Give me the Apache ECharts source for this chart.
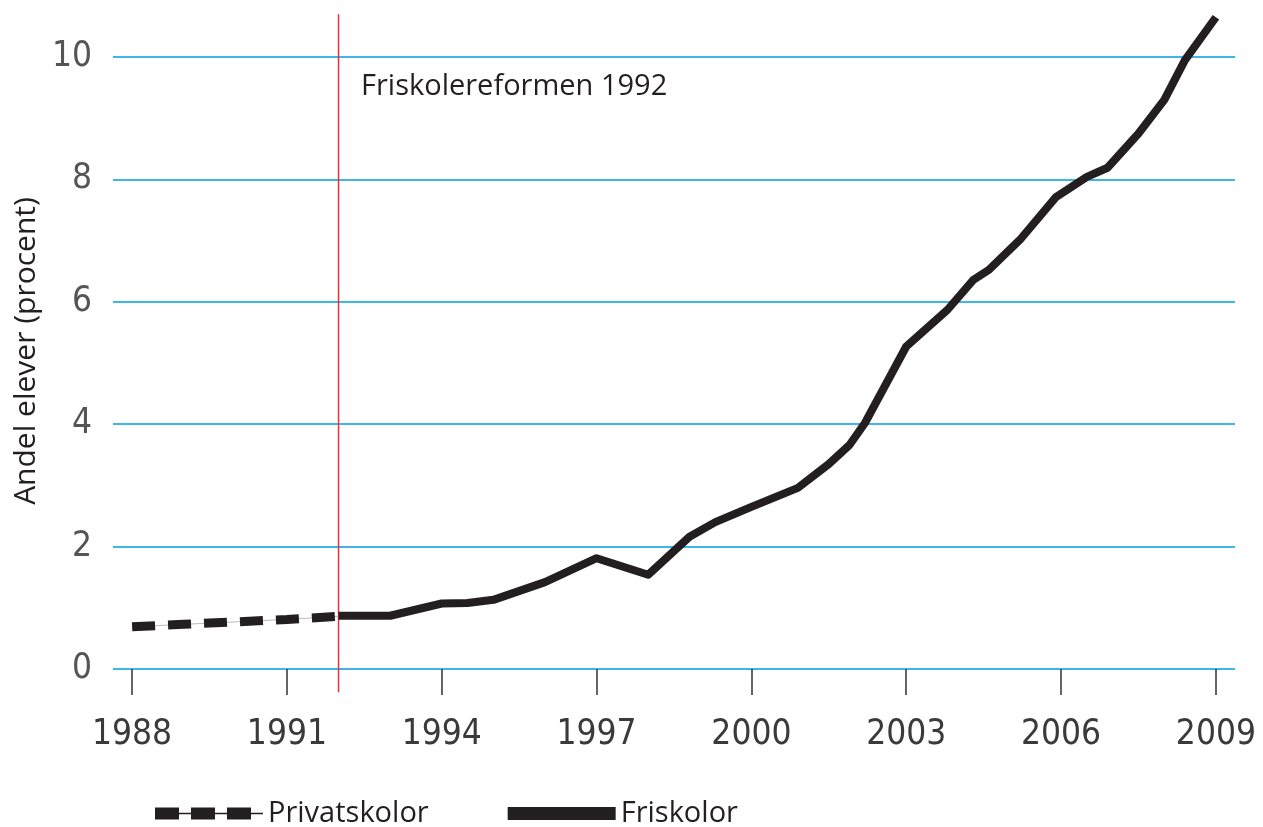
<!DOCTYPE html>
<html>
<head>
<meta charset="utf-8">
<script src="https://cdn.jsdelivr.net/npm/echarts@6/dist/echarts.min.js"></script>
<style>
html,body{margin:0;padding:0;background:#fff;}
#chart{width:1263px;height:827px;}
</style>
</head>
<body>
<div id="chart"></div>
<script>
// ---- data ----
const xTickYears = [1988, 1991, 1994, 1997, 2000, 2003, 2006, 2009];
const yTicks = [0, 2, 4, 6, 8, 10];
const reformYear = 1992;
const reformLineRange = [-0.38, 10.7];
const reformLabel = 'Friskolereformen 1992';
const yAxisTitle = 'Andel elever (procent)';

const privatYears  = [1988, 1989, 1990, 1991, 1992];
const privatValues = [0.69, 0.73, 0.77, 0.81, 0.86];

const friYears  = [1992, 1993, 1994, 1994.5, 1995, 1996, 1997, 1998, 1998.8, 1999.3, 2000, 2000.9, 2001.5, 2001.9, 2002.2, 2003, 2003.8, 2004.3, 2004.6, 2005.2, 2005.9, 2006.5, 2006.9, 2007.5, 2008, 2008.4, 2009];
const friValues = [0.87, 0.87, 1.07, 1.08, 1.13, 1.42, 1.81, 1.54, 2.16, 2.40, 2.65, 2.96, 3.35, 3.66, 4.02, 5.27, 5.87, 6.36, 6.52, 7.01, 7.71, 8.04, 8.19, 8.75, 9.30, 9.95, 10.65];

const pairs = (xs, ys) => xs.map((x, i) => [x, ys[i]]);

const narrow = "'Liberation Sans Narrow', 'DejaVu Sans Condensed', sans-serif";
const sans = "'Open Sans', 'Noto Sans', sans-serif";
const ink = '#231f20';

const chart = echarts.init(document.getElementById('chart'), null, {renderer: 'canvas'});
chart.setOption({
  animation: false,
  backgroundColor: '#ffffff',
  grid: {left: 113, right: 28, top: 57, bottom: 158, containLabel: false},
  xAxis: {
    type: 'value',
    min: 1987.63, max: 2009.37,
    offset: 7,
    axisLine: {show: false},
    axisTick: {show: true, customValues: xTickYears, length: 26, lineStyle: {color: '#333', width: 1.5}},
    axisLabel: {customValues: xTickYears, margin: 41, fontFamily: narrow, fontSize: 35, color: '#3a3a3a',
      formatter: v => String(v)},
    splitLine: {show: false}
  },
  yAxis: {
    type: 'value',
    min: 0, max: 10, interval: 2,
    name: yAxisTitle,
    nameLocation: 'middle',
    nameGap: 50,
    nameTextStyle: {fontFamily: sans, fontSize: 30, color: ink, padding: [0, 0, 0, 24]},
    axisLine: {show: false},
    axisTick: {show: false},
    axisLabel: {margin: 21, fontFamily: narrow, fontSize: 35, color: '#555',
      formatter: v => String(v)},
    splitLine: {show: true, lineStyle: {color: '#3fb5e8', width: 2}}
  },
  legend: {
    left: 150, top: 794,
    itemWidth: 108, itemHeight: 13, itemGap: 79,
    textStyle: {fontFamily: sans, fontSize: 29, color: ink},
    data: [
      {name: 'Privatskolor', icon: 'path://M0,0H24V12H0Z M24,5.3H36V6.7H24Z M36,0H60V12H36Z M60,5.3H72V6.7H60Z M72,0H96V12H72Z M96,5.3H108V6.7H96Z', itemStyle: {color: ink}},
      {name: 'Friskolor', icon: 'rect', itemStyle: {color: ink}}
    ]
  },
  graphic: [{
    type: 'text', left: 361, top: 72,
    style: {text: reformLabel, font: "29px 'Open Sans'", fill: ink}
  }],
  series: [
    {
      name: 'Reform', type: 'line', data: [[reformYear, reformLineRange[0]], [reformYear, reformLineRange[1]]],
      symbol: 'none', clip: false, silent: true, legendHoverLink: false,
      lineStyle: {color: '#e8303a', width: 1.5}, z: 1
    },
    {
      name: 'Privatskolor-guide', type: 'line', data: pairs(privatYears, privatValues),
      symbol: 'none', clip: false, silent: true, legendHoverLink: false,
      lineStyle: {color: '#bbbbbb', width: 1}, z: 2
    },
    {
      name: 'Privatskolor', type: 'line', data: pairs(privatYears, privatValues),
      symbol: 'none', clip: false,
      lineStyle: {color: ink, width: 9, type: [23, 13], cap: 'butt'}, z: 3
    },
    {
      name: 'Friskolor', type: 'line', data: pairs(friYears, friValues),
      symbol: 'none', clip: false,
      lineStyle: {color: ink, width: 8, join: 'round'}, z: 4
    }
  ]
});
</script>
</body>
</html>
